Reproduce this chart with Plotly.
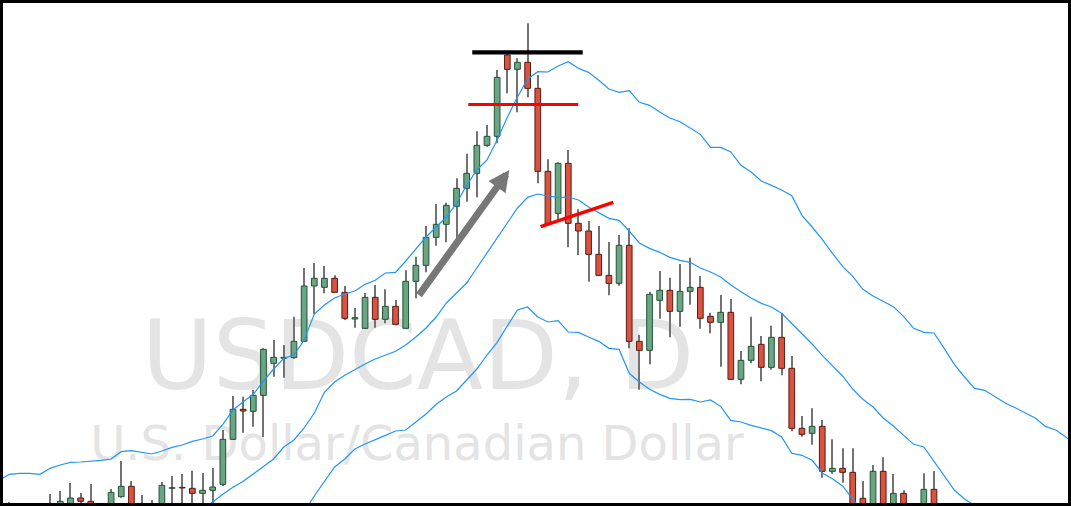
import plotly.graph_objects as go

# ---------------- data ----------------
idx = list(range(92))
opens = [
    1.3212, 1.3224, 1.3215, 1.3218, 1.3224, 1.3230, 1.3239, 1.3266, 1.3256, 1.3239,
    1.3236, 1.3270, 1.3301, 1.3224, 1.3236, 1.3245, 1.3295, 1.3298, 1.3295, 1.3280,
    1.3289, 1.3307, 1.3442, 1.3532, 1.3526, 1.3574, 1.3670, 1.3685, 1.3687, 1.3736,
    1.3902, 1.3898, 1.3925, 1.3883, 1.3803, 1.3775, 1.3868, 1.3802, 1.3841, 1.3775,
    1.3916, 1.3964, 1.4048, 1.4087, 1.4141, 1.4195, 1.4240, 1.4324, 1.4351, 1.4595,
    1.4552, 1.4573, 1.4495, 1.4246, 1.4120, 1.4270, 1.4090, 1.4067, 1.3997, 1.3934,
    1.3910, 1.4024, 1.3736, 1.3709, 1.3859, 1.3889, 1.3826, 1.3886, 1.3898, 1.3811,
    1.3793, 1.3823, 1.3622, 1.3679, 1.3727, 1.3658, 1.3748, 1.3655, 1.3475, 1.3460,
    1.3481, 1.3346, 1.3355, 1.3343, 1.3265, 1.3224, 1.3346, 1.3230, 1.3280, 1.3236,
    1.3224, 1.3292]
highs = [
    1.3254, 1.3239, 1.3230, 1.3242, 1.3278, 1.3287, 1.3311, 1.3281, 1.3308, 1.3245,
    1.3293, 1.3377, 1.3317, 1.3275, 1.3260, 1.3314, 1.3332, 1.3338, 1.3348, 1.3341,
    1.3356, 1.3470, 1.3572, 1.3570, 1.3590, 1.3715, 1.3740, 1.3725, 1.3810, 1.3956,
    1.3971, 1.3962, 1.3934, 1.3902, 1.3836, 1.3881, 1.3905, 1.3892, 1.3860, 1.3949,
    1.3990, 1.4082, 1.4148, 1.4152, 1.4225, 1.4299, 1.4366, 1.4385, 1.4550, 1.4603,
    1.4585, 1.4690, 1.4535, 1.4282, 1.4273, 1.4310, 1.4132, 1.4097, 1.4082, 1.4034,
    1.4055, 1.4075, 1.3755, 1.3885, 1.3947, 1.3927, 1.3968, 1.3987, 1.3932, 1.3822,
    1.3875, 1.3863, 1.3707, 1.3810, 1.3752, 1.3783, 1.3820, 1.3692, 1.3512, 1.3535,
    1.3500, 1.3442, 1.3415, 1.3415, 1.3317, 1.3365, 1.3388, 1.3338, 1.3289, 1.3248,
    1.3340, 1.3347]
lows = [
    1.3194, 1.3185, 1.3194, 1.3200, 1.3212, 1.3218, 1.3224, 1.3245, 1.3215, 1.3206,
    1.3224, 1.3267, 1.3224, 1.3215, 1.3224, 1.3236, 1.3245, 1.3248, 1.3248, 1.3248,
    1.3251, 1.3302, 1.3440, 1.3462, 1.3480, 1.3449, 1.3630, 1.3627, 1.3684, 1.3734,
    1.3817, 1.3880, 1.3883, 1.3800, 1.3777, 1.3774, 1.3777, 1.3790, 1.3784, 1.3774,
    1.3865, 1.3943, 1.4023, 1.4033, 1.4040, 1.4155, 1.4168, 1.4320, 1.4330, 1.4480,
    1.4423, 1.4468, 1.4210, 1.4085, 1.4102, 1.4018, 1.3995, 1.3915, 1.3932, 1.3874,
    1.3903, 1.3715, 1.3591, 1.3667, 1.3804, 1.3748, 1.3780, 1.3846, 1.3774, 1.3760,
    1.3660, 1.3620, 1.3607, 1.3670, 1.3616, 1.3651, 1.3634, 1.3466, 1.3450, 1.3426,
    1.3327, 1.3339, 1.3312, 1.3200, 1.3206, 1.3212, 1.3200, 1.3218, 1.3224, 1.3206,
    1.3215, 1.3212]
closes = [
    1.3236, 1.3206, 1.3224, 1.3230, 1.3245, 1.3256, 1.3266, 1.3256, 1.3230, 1.3224,
    1.3283, 1.3301, 1.3236, 1.3242, 1.3245, 1.3304, 1.3297, 1.3296, 1.3280, 1.3289,
    1.3299, 1.3442, 1.3532, 1.3527, 1.3574, 1.3712, 1.3688, 1.3688, 1.3736, 1.3902,
    1.3925, 1.3925, 1.3883, 1.3805, 1.3807, 1.3868, 1.3802, 1.3841, 1.3787, 1.3916,
    1.3964, 1.4048, 1.4087, 1.4144, 1.4195, 1.4240, 1.4324, 1.4351, 1.4528, 1.4552,
    1.4573, 1.4495, 1.4246, 1.4087, 1.4270, 1.4090, 1.4067, 1.3997, 1.3934, 1.3910,
    1.4024, 1.3736, 1.3709, 1.3877, 1.3889, 1.3826, 1.3886, 1.3898, 1.3805, 1.3793,
    1.3823, 1.3622, 1.3679, 1.3721, 1.3658, 1.3748, 1.3655, 1.3475, 1.3457, 1.3481,
    1.3346, 1.3355, 1.3343, 1.3215, 1.3224, 1.3346, 1.3212, 1.3280, 1.3242, 1.3218,
    1.3292, 1.3230]

band_x = list(range(-1, 106))
bb_upper = [
    1.3320, 1.3337, 1.3340, 1.3340, 1.3337, 1.3355, 1.3365, 1.3373, 1.3374, 1.3376, 1.3379,
    1.3383, 1.3405, 1.3408, 1.3403, 1.3398, 1.3407, 1.3418, 1.3425, 1.3436, 1.3443,
    1.3452, 1.3487, 1.3530, 1.3555, 1.3577, 1.3617, 1.3653, 1.3685, 1.3695, 1.3740,
    1.3818, 1.3845, 1.3866, 1.3878, 1.3887, 1.3907, 1.3919, 1.3941, 1.3943, 1.3977,
    1.4013, 1.4049, 1.4079, 1.4109, 1.4150, 1.4204, 1.4250, 1.4280, 1.4340, 1.4408,
    1.4469, 1.4523, 1.4545, 1.4544, 1.4562, 1.4575, 1.4555, 1.4543, 1.4519, 1.4493,
    1.4483, 1.4488, 1.4453, 1.4444, 1.4424, 1.4406, 1.4395, 1.4376, 1.4357, 1.4318,
    1.4318, 1.4304, 1.4264, 1.4244, 1.4217, 1.4204, 1.4190, 1.4173, 1.4114, 1.4079,
    1.4042, 1.4000, 1.3961, 1.3931, 1.3892, 1.3872, 1.3856, 1.3840, 1.3811, 1.3775,
    1.3763, 1.3761, 1.3715, 1.3667, 1.3629, 1.3595, 1.3589, 1.3569, 1.3551, 1.3537,
    1.3522, 1.3505, 1.3480, 1.3470, 1.3448, 1.3428]
bb_middle = [
    1.3170, 1.3176, 1.3179, 1.3179, 1.3182, 1.3188, 1.3191, 1.3194, 1.3197, 1.3200, 1.3203,
    1.3206, 1.3212, 1.3215, 1.3218, 1.3218, 1.3221, 1.3224, 1.3227, 1.3230, 1.3236,
    1.3254, 1.3277, 1.3298, 1.3316, 1.3338, 1.3361, 1.3383, 1.3419, 1.3440, 1.3476,
    1.3521, 1.3583, 1.3614, 1.3634, 1.3652, 1.3668, 1.3683, 1.3694, 1.3706, 1.3725,
    1.3749, 1.3776, 1.3809, 1.3851, 1.3880, 1.3911, 1.3956, 1.4001, 1.4048, 1.4094,
    1.4136, 1.4168, 1.4178, 1.4172, 1.4168, 1.4169, 1.4160, 1.4139, 1.4121, 1.4105,
    1.4099, 1.4067, 1.4031, 1.4015, 1.4003, 1.3988, 1.3979, 1.3973, 1.3956, 1.3944,
    1.3929, 1.3905, 1.3885, 1.3866, 1.3850, 1.3839, 1.3820, 1.3790, 1.3760, 1.3728,
    1.3694, 1.3664, 1.3632, 1.3593, 1.3562, 1.3539, 1.3506, 1.3482, 1.3454, 1.3427,
    1.3419, 1.3376, 1.3332, 1.3290, 1.3263, 1.3242, 1.3224, 1.3206, 1.3188, 1.3170,
    1.3152, 1.3140, 1.3122, 1.3110, 1.3092, 1.3080]
bb_lower = [
    1.3014, 1.3020, 1.3020, 1.3017, 1.3020, 1.3026, 1.3026, 1.3026, 1.3029, 1.3032, 1.3035,
    1.3038, 1.3026, 1.3032, 1.3038, 1.3044, 1.3044, 1.3044, 1.3038, 1.3032, 1.3029,
    1.3056, 1.3074, 1.3077, 1.3083, 1.3101, 1.3104, 1.3113, 1.3149, 1.3185, 1.3224,
    1.3272, 1.3314, 1.3359, 1.3383, 1.3413, 1.3428, 1.3440, 1.3454, 1.3467, 1.3470,
    1.3494, 1.3518, 1.3547, 1.3569, 1.3587, 1.3620, 1.3653, 1.3695, 1.3733, 1.3782,
    1.3830, 1.3839, 1.3809, 1.3794, 1.3798, 1.3764, 1.3763, 1.3749, 1.3736, 1.3715,
    1.3712, 1.3640, 1.3614, 1.3592, 1.3577, 1.3565, 1.3561, 1.3562, 1.3554, 1.3560,
    1.3541, 1.3499, 1.3494, 1.3484, 1.3475, 1.3468, 1.3449, 1.3400, 1.3394, 1.3379,
    1.3341, 1.3324, 1.3302, 1.3265, 1.3224, 1.3206, 1.3182, 1.3164, 1.3140, 1.3116,
    1.3095, 1.3080, 1.3062, 1.3035, 1.3005, 1.2975, 1.2960, 1.2945, 1.2924, 1.2906,
    1.2891, 1.2876, 1.2858, 1.2840, 1.2828, 1.2816]

# drawn markup (bar index, price)
top_level_x = [45.55, 56.42]
top_level_y = [1.4603, 1.4603]
red_level_x = [45.16, 55.98]
red_level_y = [1.44465, 1.44465]
trend_x = [52.28, 59.43]
trend_y = [1.4080, 1.4153]
arrow_tail = (40.2, 1.3870)
arrow_tip = (49.2, 1.4250)

watermark_text = ["USDCAD, D", "U.S. Dollar/Canadian Dollar"]

# ---------------- styling ----------------
UP_FILL, UP_LINE = "#6ba583", "#225437"
DN_FILL, DN_LINE = "#d75442", "#5b1a13"
WICK = "#737375"
BAND = "#2196f3"

x_range = [-0.64, 104.19]
y_range = [1.3251, 1.4751]

# derived bar geometry
wick_base = lows
wick_len = [h - l for h, l in zip(highs, lows)]
up_x = [i for i, o, c in zip(idx, opens, closes) if c >= o]
up_base = [o for o, c in zip(opens, closes) if c >= o]
up_len = [c - o for o, c in zip(opens, closes) if c >= o]
dn_x = [i for i, o, c in zip(idx, opens, closes) if c < o]
dn_base = [c for o, c in zip(opens, closes) if c < o]
dn_len = [o - c for o, c in zip(opens, closes) if c < o]

fig = go.Figure()

# watermark in the base subplot (drawn beneath the overlay subplot)
fig.add_trace(go.Scatter(
    x=[0.3897, 0.3887], y=[0.2756, 0.1096], mode="text",
    text=watermark_text, textposition="middle center",
    textfont=dict(family="DejaVu Sans", size=[97, 48], color="#e4e4e4"),
    hoverinfo="skip", showlegend=False, xaxis="x", yaxis="y"))

fig.add_trace(go.Bar(
    x=idx, y=wick_len, base=wick_base, width=0.1,
    marker=dict(color=WICK, line=dict(width=0)),
    xaxis="x2", yaxis="y2", showlegend=False, hoverinfo="skip"))
fig.add_trace(go.Bar(
    x=up_x, y=up_len, base=up_base, width=0.56,
    marker=dict(color=UP_FILL, line=dict(color=UP_LINE, width=1)),
    xaxis="x2", yaxis="y2", showlegend=False, hoverinfo="skip"))
fig.add_trace(go.Bar(
    x=dn_x, y=dn_len, base=dn_base, width=0.56,
    marker=dict(color=DN_FILL, line=dict(color=DN_LINE, width=1)),
    xaxis="x2", yaxis="y2", showlegend=False, hoverinfo="skip"))

for band in (bb_upper, bb_middle, bb_lower):
    fig.add_trace(go.Scatter(
        x=band_x, y=band, mode="lines",
        line=dict(color=BAND, width=1.2),
        xaxis="x2", yaxis="y2", showlegend=False, hoverinfo="skip"))

shapes = [
    dict(type="line", xref="x2", yref="y2", x0=top_level_x[0], x1=top_level_x[1],
         y0=top_level_y[0], y1=top_level_y[1], line=dict(color="#000000", width=4.3), layer="above"),
    dict(type="line", xref="x2", yref="y2", x0=red_level_x[0], x1=red_level_x[1],
         y0=red_level_y[0], y1=red_level_y[1], line=dict(color="#ff0000", width=3), layer="above"),
    dict(type="line", xref="x2", yref="y2", x0=trend_x[0], x1=trend_x[1],
         y0=trend_y[0], y1=trend_y[1], line=dict(color="#ff0000", width=3.5), layer="above"),
]

fig.add_annotation(
    x=arrow_tip[0], y=arrow_tip[1], ax=arrow_tail[0], ay=arrow_tail[1],
    xref="x2", yref="y2", axref="x2", ayref="y2", text="",
    showarrow=True, arrowhead=2, arrowsize=0.6, arrowwidth=7, arrowcolor="#777777")

fig.update_layout(
    width=1071, height=506,
    margin=dict(l=3, r=3, t=3, b=3, pad=0),
    paper_bgcolor="#000000", plot_bgcolor="#ffffff",
    barmode="overlay", showlegend=False, hovermode=False,
    shapes=shapes,
    xaxis=dict(range=[0, 1], visible=False, fixedrange=True),
    yaxis=dict(range=[0, 1], visible=False, fixedrange=True),
    xaxis2=dict(range=x_range, overlaying="x", anchor="y2", visible=False,
                showgrid=False, zeroline=False),
    yaxis2=dict(range=y_range, overlaying="y", anchor="x2", visible=False,
                showgrid=False, zeroline=False),
)

fig.write_html(
    "out.html",
    config={"displayModeBar": False},
    post_script="document.body.style.margin='0';document.body.style.overflow='hidden';",
)
